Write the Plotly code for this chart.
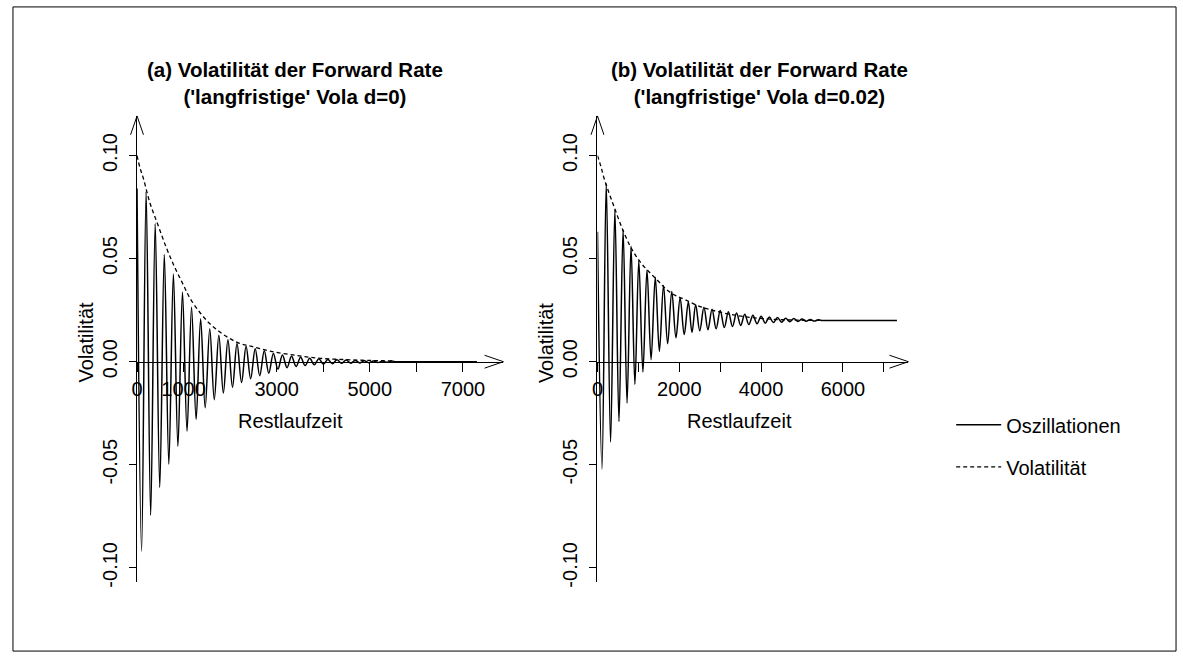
import plotly.graph_objects as go

W, H = 1183, 665

# ---------------- data ----------------
# Panel (a): extrema of the oscillation (alternating peaks / troughs), d = 0
A_OSC_T = [0, 98, 195, 293, 390, 488, 586, 683, 781, 878, 976, 1074, 1171, 1269,
           1366, 1464, 1562, 1659, 1757, 1854, 1952, 2050, 2147, 2245, 2342, 2440,
           2538, 2635, 2733, 2830, 2928, 3026, 3123, 3221, 3318, 3416, 3514, 3611,
           3709, 3806, 3904, 4002, 4099, 4197, 4294, 4392, 4490, 4587, 4685, 4782,
           4880, 4978, 5075, 5173, 5270, 5368, 5466, 5560, 5700, 7300]
A_OSC_V = [0.084, -0.092, 0.0825, -0.0745, 0.067, -0.061, 0.052, -0.0497, 0.0425,
           -0.041, 0.0337, -0.0337, 0.0264, -0.028, 0.0208, -0.0224, 0.016, -0.0184,
           0.0128, -0.0152, 0.0107, -0.0124, 0.0088, -0.0101, 0.0075, -0.0083, 0.0063,
           -0.0068, 0.0053, -0.0056, 0.0040, -0.0036, 0.0032, -0.0029, 0.0026, -0.0023,
           0.0021, -0.0019, 0.0017, -0.0015, 0.0014, -0.0012, 0.0011, -0.0010, 0.0009,
           -0.0008, 0.0008, -0.0007, 0.0006, -0.0006, 0.0005, -0.0005, 0.0004, -0.0004,
           0.0003, -0.0003, 0.0003, 0.0, 0.0, 0.0]
# Panel (a): volatility envelope
A_VOL_T = [0, 64, 135, 278, 455, 635, 812, 1000, 1132, 1346, 1560, 1773, 1987, 2200,
           2450, 2878, 3440, 3947, 4500, 5000, 5500]
A_VOL_V = [0.100, 0.094, 0.089, 0.077, 0.066, 0.055, 0.0457, 0.037, 0.031, 0.024,
           0.0185, 0.0145, 0.0113, 0.0089, 0.0075, 0.0050, 0.0030, 0.0016, 0.0010,
           0.0006, 0.0004]

# Panel (b): extrema of the oscillation, d = 0.02
B_OSC_T = [0, 110, 214, 320, 425, 525, 626, 723, 820, 915, 1010, 1110, 1210, 1310,
           1413, 1513, 1614, 1715, 1816, 1918, 2020, 2120, 2221, 2310, 2400, 2500,
           2602, 2700, 2800, 2900, 3000, 3100, 3200, 3300, 3400, 3500, 3600, 3700,
           3800, 3900, 4000, 4100, 4200, 4300, 4400, 4500, 4600, 4700, 4800, 4900,
           5000, 5100, 5200, 5300, 5400, 5500, 5600, 7320]
B_OSC_V = [0.063, -0.052, 0.0865, -0.039, 0.0737, -0.029, 0.064, -0.020, 0.056,
           -0.011, 0.049, -0.005, 0.0445, 0.001, 0.041, 0.005, 0.037, 0.0087, 0.034,
           0.0116, 0.031, 0.0132, 0.029, 0.0142, 0.0276, 0.0150, 0.0264, 0.0155,
           0.0255, 0.0160, 0.0248, 0.0166, 0.0242, 0.0171, 0.0236, 0.0176, 0.0230,
           0.0180, 0.0225, 0.0184, 0.0221, 0.0187, 0.0217, 0.0190, 0.0214, 0.0192,
           0.0211, 0.0194, 0.0209, 0.0195, 0.0207, 0.0196, 0.0205, 0.0197, 0.0203,
           0.0200, 0.0200, 0.0200]
# Panel (b): volatility envelope
B_VOL_T = [0, 80, 160, 280, 400, 520, 650, 800, 950, 1100, 1300, 1500, 1700, 1900,
           2150, 2450, 2800, 3400, 4100, 4800, 5500]
B_VOL_V = [0.100, 0.095, 0.089, 0.082, 0.0755, 0.069, 0.0625, 0.056, 0.051, 0.047,
           0.0428, 0.0388, 0.0348, 0.0322, 0.0300, 0.0272, 0.0250, 0.0224, 0.0208,
           0.0202, 0.0200]

Y_TICKS = [-0.10, -0.05, 0.00, 0.05, 0.10]
Y_TICKTEXT = ["-0.10", "-0.05", "0.00", "0.05", "0.10"]
X_TICKS = [0, 1000, 2000, 3000, 4000, 5000, 6000, 7000]
A_XTICKTEXT = ["0", "1000", "", "3000", "", "5000", "", "7000"]
B_XTICKTEXT = ["0", "", "2000", "", "4000", "", "6000", ""]

TITLE_A = "(a) Volatilität der Forward Rate<br>('langfristige' Vola d=0)"
TITLE_B = "(b) Volatilität der Forward Rate<br>('langfristige' Vola d=0.02)"
XLAB = "Restlaufzeit"
YLAB = "Volatilität"
LEG_OSC = "Oszillationen"
LEG_VOL = "Volatilität"

# ---------------- layout geometry (pixels) ----------------
FONT = "Liberation Sans, Arial, sans-serif"
FS = 20


def px(x):
    return x / W


def py(y):
    return 1 - y / H


A_L, A_R = 131.7, 500.0
B_L, B_R = 594.5, 907.0
Y_TOP, Y_BOT = 117.0, 587.0
Y0 = 365.0
Y_RANGE = [-(Y_BOT - Y0) / 2080.0, (Y0 - Y_TOP) / 2080.0]

fig = go.Figure()

line_k = dict(color="black", width=1.5)
dash_k = dict(color="black", width=1.3, dash="4px,3px")

fig.add_trace(go.Scatter(x=A_OSC_T, y=A_OSC_V, mode="lines", line=dict(**line_k, shape="spline"),
                         name=LEG_OSC, legendgroup="o", showlegend=True, xaxis="x", yaxis="y"))
fig.add_trace(go.Scatter(x=A_VOL_T, y=A_VOL_V, mode="lines", line=dict(**dash_k, shape="spline"),
                         name=LEG_VOL, legendgroup="v", showlegend=True, xaxis="x", yaxis="y"))
fig.add_trace(go.Scatter(x=B_OSC_T, y=B_OSC_V, mode="lines", line=dict(**line_k, shape="spline"),
                         name=LEG_OSC, legendgroup="o", showlegend=False, xaxis="x2", yaxis="y2"))
fig.add_trace(go.Scatter(x=B_VOL_T, y=B_VOL_V, mode="lines", line=dict(**dash_k, shape="spline"),
                         name=LEG_VOL, legendgroup="v", showlegend=False, xaxis="x2", yaxis="y2"))

common_x = dict(anchor="free", position=py(Y0), showline=True, linecolor="black", linewidth=1,
                ticks="outside", ticklen=9, tickwidth=1, tickcolor="black", showgrid=False,
                zeroline=False, tickvals=X_TICKS, tickfont=dict(family=FONT, size=FS, color="black"),
                ticklabelstandoff=0)
common_y = dict(showline=True, linecolor="black", linewidth=1, ticks="outside", ticklen=7,
                tickwidth=1, tickcolor="black", showgrid=False, zeroline=False,
                tickvals=Y_TICKS, ticktext=Y_TICKTEXT, tickangle=-90, range=Y_RANGE,
                domain=[py(Y_BOT), py(Y_TOP)], tickfont=dict(family=FONT, size=FS, color="black"),
                ticklabelstandoff=4)

fig.update_layout(
    width=W, height=H, margin=dict(l=0, r=0, t=0, b=0),
    paper_bgcolor="white", plot_bgcolor="rgba(0,0,0,0)",
    xaxis=dict(domain=[px(A_L), px(A_R)], range=[0, 7870], ticktext=A_XTICKTEXT, **common_x),
    yaxis=dict(anchor="x", **common_y),
    xaxis2=dict(domain=[px(B_L), px(B_R)], range=[0, 7600], ticktext=B_XTICKTEXT, **common_x),
    yaxis2=dict(anchor="x2", **common_y),
    showlegend=True,
    legend=dict(x=px(950), y=py(409), xanchor="left", yanchor="top",
                font=dict(family=FONT, size=FS, color="black"), bgcolor="rgba(0,0,0,0)",
                traceorder="grouped", tracegroupgap=13, itemwidth=45),
)

shapes = [dict(type="rect", xref="paper", yref="paper", x0=px(7), x1=px(1176), y0=py(657), y1=py(7),
               line=dict(color="black", width=1))]


def arrow_up(x, y):
    return dict(type="path", xref="paper", yref="paper",
                path=f"M {px(x-6.5)} {py(y+19)} L {px(x)} {py(y)} L {px(x+6.5)} {py(y+19)}",
                line=dict(color="black", width=1))


def arrow_right(x, y):
    return dict(type="path", xref="paper", yref="paper",
                path=f"M {px(x-19)} {py(y-6.5)} L {px(x)} {py(y)} L {px(x-19)} {py(y+6.5)}",
                line=dict(color="black", width=1))


shapes += [arrow_up(A_L, Y_TOP), arrow_right(A_R, Y0), arrow_up(B_L, Y_TOP), arrow_right(B_R, Y0)]
fig.update_layout(shapes=shapes)

ann = []
for cx, t in [(290, TITLE_A), (757, TITLE_B)]:
    ann.append(dict(xref="paper", yref="paper", x=px(cx), y=py(84), text=f"<b>{t}</b>",
                    showarrow=False, xanchor="center", yanchor="middle",
                    font=dict(family=FONT, size=20.5, color="black")))
for cx in (286, 737):
    ann.append(dict(xref="paper", yref="paper", x=px(cx), y=py(425), text=XLAB, showarrow=False,
                    xanchor="center", yanchor="middle", font=dict(family=FONT, size=FS, color="black")))
for cx in (80, 543):
    ann.append(dict(xref="paper", yref="paper", x=px(cx), y=py(346), text=YLAB, showarrow=False,
                    textangle=-90, xanchor="center", yanchor="middle",
                    font=dict(family=FONT, size=FS, color="black")))
fig.update_layout(annotations=ann)

fig.write_html("out.html")
